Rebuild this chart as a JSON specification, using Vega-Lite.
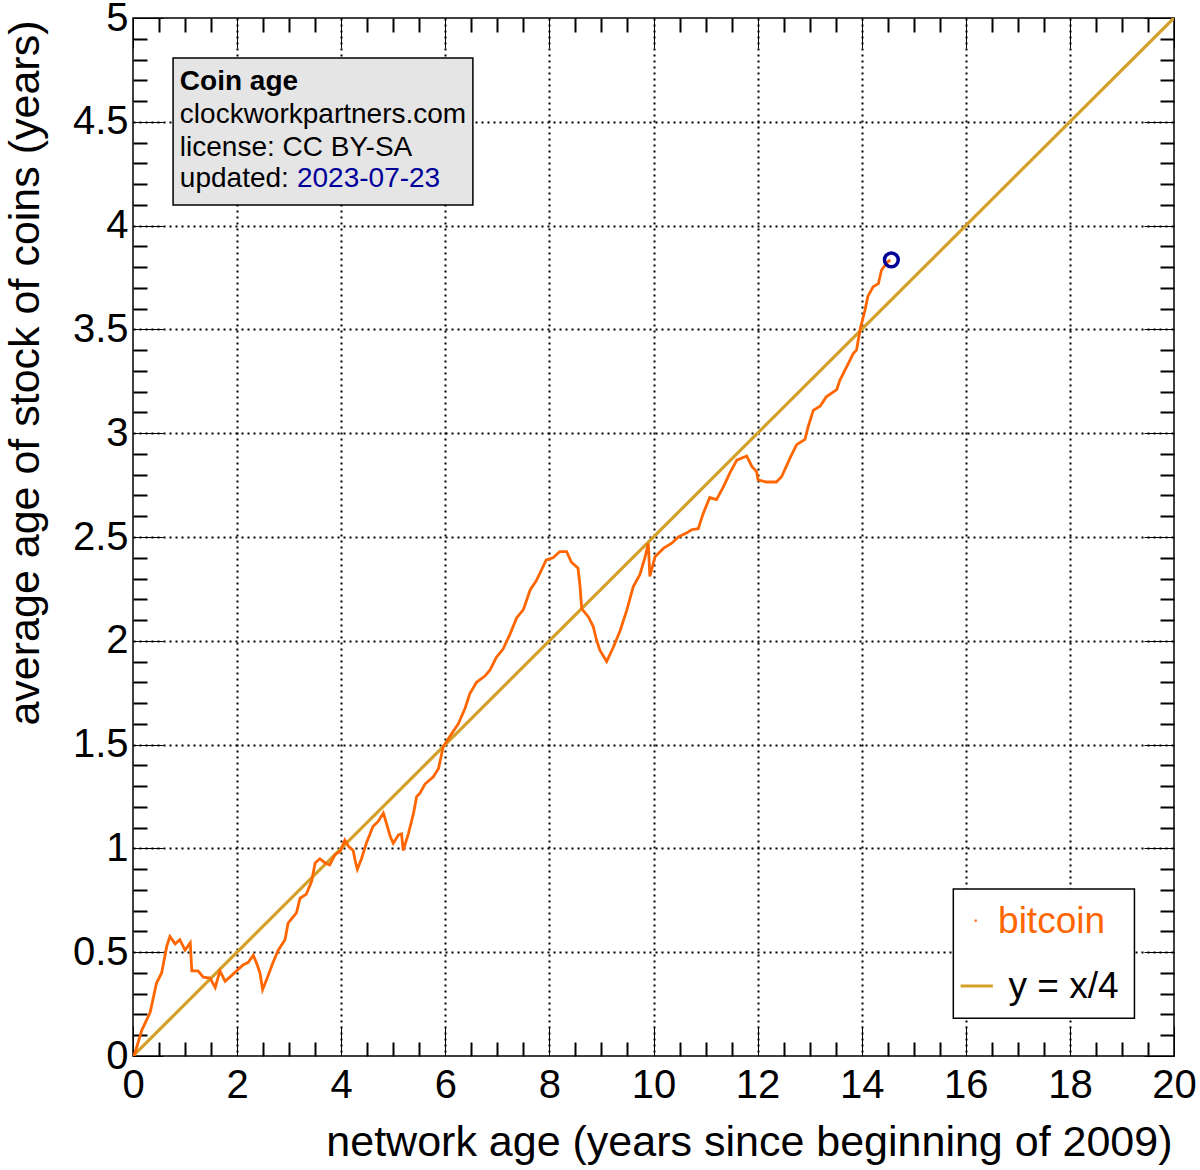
{
  "$schema": "https://vega.github.io/schema/vega-lite/v6.json",
  "width": 1041,
  "height": 1038,
  "autosize": "none",
  "padding": {"left": 133, "top": 18, "right": 26, "bottom": 114},
  "background": "white",
  "config": {
    "font": "Liberation Sans",
    "view": {"stroke": "black", "strokeWidth": 1.5},
    "axis": {"domain": false, "tickColor": "black", "labelColor": "black", "titleColor": "black", "labelFont": "Liberation Sans", "titleFont": "Liberation Sans"}
  },
  "datasets": {
    "bitcoin": [
      {"t": 0.02, "age": 0.0}, {"t": 0.17, "age": 0.125}, {"t": 0.33, "age": 0.21}, {"t": 0.45, "age": 0.35},
      {"t": 0.55, "age": 0.40}, {"t": 0.65, "age": 0.53}, {"t": 0.71, "age": 0.575}, {"t": 0.81, "age": 0.54},
      {"t": 0.90, "age": 0.56}, {"t": 1.00, "age": 0.51}, {"t": 1.10, "age": 0.545}, {"t": 1.13, "age": 0.41},
      {"t": 1.25, "age": 0.41}, {"t": 1.35, "age": 0.38}, {"t": 1.48, "age": 0.375}, {"t": 1.58, "age": 0.33},
      {"t": 1.67, "age": 0.41}, {"t": 1.77, "age": 0.36}, {"t": 1.86, "age": 0.38}, {"t": 1.99, "age": 0.41},
      {"t": 2.12, "age": 0.44}, {"t": 2.21, "age": 0.45}, {"t": 2.31, "age": 0.485}, {"t": 2.37, "age": 0.45},
      {"t": 2.44, "age": 0.40}, {"t": 2.49, "age": 0.32}, {"t": 2.57, "age": 0.37}, {"t": 2.69, "age": 0.45},
      {"t": 2.79, "age": 0.51}, {"t": 2.92, "age": 0.56}, {"t": 2.98, "age": 0.64}, {"t": 3.14, "age": 0.69},
      {"t": 3.21, "age": 0.76}, {"t": 3.33, "age": 0.78}, {"t": 3.43, "age": 0.84}, {"t": 3.50, "age": 0.93},
      {"t": 3.59, "age": 0.95}, {"t": 3.69, "age": 0.93}, {"t": 3.78, "age": 0.92}, {"t": 3.88, "age": 0.97},
      {"t": 3.98, "age": 0.985}, {"t": 4.07, "age": 1.04}, {"t": 4.14, "age": 1.01}, {"t": 4.23, "age": 0.99},
      {"t": 4.27, "age": 0.94}, {"t": 4.31, "age": 0.90}, {"t": 4.39, "age": 0.95}, {"t": 4.49, "age": 1.03},
      {"t": 4.61, "age": 1.105}, {"t": 4.71, "age": 1.13}, {"t": 4.81, "age": 1.17}, {"t": 4.87, "age": 1.12},
      {"t": 4.94, "age": 1.06}, {"t": 5.00, "age": 1.025}, {"t": 5.10, "age": 1.065}, {"t": 5.16, "age": 1.07},
      {"t": 5.19, "age": 0.99}, {"t": 5.29, "age": 1.07}, {"t": 5.39, "age": 1.17}, {"t": 5.45, "age": 1.25},
      {"t": 5.51, "age": 1.265}, {"t": 5.61, "age": 1.31}, {"t": 5.77, "age": 1.345}, {"t": 5.87, "age": 1.385},
      {"t": 5.96, "age": 1.49}, {"t": 6.09, "age": 1.54}, {"t": 6.25, "age": 1.60}, {"t": 6.38, "age": 1.675},
      {"t": 6.47, "age": 1.745}, {"t": 6.60, "age": 1.80}, {"t": 6.76, "age": 1.83}, {"t": 6.86, "age": 1.86},
      {"t": 6.98, "age": 1.92}, {"t": 7.11, "age": 1.96}, {"t": 7.24, "age": 2.03}, {"t": 7.37, "age": 2.11},
      {"t": 7.50, "age": 2.15}, {"t": 7.63, "age": 2.245}, {"t": 7.75, "age": 2.29}, {"t": 7.94, "age": 2.39},
      {"t": 8.07, "age": 2.40}, {"t": 8.20, "age": 2.43}, {"t": 8.33, "age": 2.43}, {"t": 8.42, "age": 2.38},
      {"t": 8.55, "age": 2.35}, {"t": 8.59, "age": 2.26}, {"t": 8.62, "age": 2.155}, {"t": 8.75, "age": 2.115},
      {"t": 8.84, "age": 2.07}, {"t": 8.91, "age": 2.00}, {"t": 8.97, "age": 1.955}, {"t": 9.10, "age": 1.90},
      {"t": 9.23, "age": 1.97}, {"t": 9.36, "age": 2.05}, {"t": 9.49, "age": 2.15}, {"t": 9.61, "age": 2.26},
      {"t": 9.74, "age": 2.32}, {"t": 9.84, "age": 2.405}, {"t": 9.90, "age": 2.47}, {"t": 9.93, "age": 2.31},
      {"t": 10.03, "age": 2.405}, {"t": 10.19, "age": 2.445}, {"t": 10.35, "age": 2.47}, {"t": 10.48, "age": 2.50},
      {"t": 10.64, "age": 2.52}, {"t": 10.73, "age": 2.535}, {"t": 10.86, "age": 2.54}, {"t": 10.95, "age": 2.61},
      {"t": 11.08, "age": 2.69}, {"t": 11.21, "age": 2.68}, {"t": 11.34, "age": 2.74}, {"t": 11.47, "age": 2.81},
      {"t": 11.60, "age": 2.87}, {"t": 11.79, "age": 2.89}, {"t": 11.89, "age": 2.84}, {"t": 11.98, "age": 2.815},
      {"t": 12.01, "age": 2.775}, {"t": 12.17, "age": 2.765}, {"t": 12.36, "age": 2.765}, {"t": 12.46, "age": 2.79},
      {"t": 12.56, "age": 2.845}, {"t": 12.65, "age": 2.895}, {"t": 12.75, "age": 2.945}, {"t": 12.91, "age": 2.97},
      {"t": 12.97, "age": 3.03}, {"t": 13.07, "age": 3.11}, {"t": 13.20, "age": 3.13}, {"t": 13.32, "age": 3.175},
      {"t": 13.52, "age": 3.21}, {"t": 13.58, "age": 3.255}, {"t": 13.71, "age": 3.32}, {"t": 13.84, "age": 3.385},
      {"t": 13.90, "age": 3.40}, {"t": 13.97, "age": 3.50}, {"t": 14.06, "age": 3.59}, {"t": 14.12, "age": 3.66},
      {"t": 14.22, "age": 3.705}, {"t": 14.32, "age": 3.72}, {"t": 14.38, "age": 3.785}, {"t": 14.48, "age": 3.82},
      {"t": 14.55, "age": 3.835}
    ],
    "diagonal": [{"t": 0, "age": 0}, {"t": 20, "age": 5}],
    "latest": [{"t": 14.57, "age": 3.835}]
  },
  "layer": [
    {
      "data": {"name": "diagonal"},
      "mark": {"type": "line", "color": "#d4a02a", "strokeWidth": 3.2, "clip": true},
      "encoding": {
        "x": {
          "field": "t", "type": "quantitative",
          "scale": {"domain": [0, 20], "nice": false, "zero": false},
          "axis": {
            "orient": "bottom",
            "values": [0,0.5,1,1.5,2,2.5,3,3.5,4,4.5,5,5.5,6,6.5,7,7.5,8,8.5,9,9.5,10,10.5,11,11.5,12,12.5,13,13.5,14,14.5,15,15.5,16,16.5,17,17.5,18,18.5,19,19.5,20],
            "tickSize": {"condition": {"test": "datum.value % 2 === 0", "value": -30}, "value": -14},
            "tickWidth": {"condition": {"test": "datum.value % 2 === 0", "value": 1}, "value": 2},
            "grid": true,
            "gridColor": "black",
            "gridDash": [2, 4],
            "gridWidth": 2,
            "gridOpacity": {"condition": {"test": "datum.value % 2 === 0 && datum.value > 0 && datum.value < 20", "value": 1}, "value": 0},
            "labelExpr": "datum.value % 2 === 0 ? toString(datum.value) : ''",
            "labelFontSize": 40,
            "labelPadding": 39,
            "labelFlush": false,
            "labelOverlap": false,
            "title": "network age (years since beginning of 2009)",
            "titleFontSize": 43,
            "titleFontWeight": "normal",
            "titleAlign": "right",
            "titleAnchor": "end",
            "titleBaseline": "alphabetic",
            "titleX": 1039,
            "titleY": 99
          }
        },
        "y": {
          "field": "age", "type": "quantitative",
          "scale": {"domain": [0, 5], "nice": false, "zero": false},
          "axis": {
            "orient": "left",
            "values": [0,0.1,0.2,0.3,0.4,0.5,0.6,0.7,0.8,0.9,1,1.1,1.2,1.3,1.4,1.5,1.6,1.7,1.8,1.9,2,2.1,2.2,2.3,2.4,2.5,2.6,2.7,2.8,2.9,3,3.1,3.2,3.3,3.4,3.5,3.6,3.7,3.8,3.9,4,4.1,4.2,4.3,4.4,4.5,4.6,4.7,4.8,4.9,5],
            "tickSize": {"condition": {"test": "abs(datum.value * 2 - round(datum.value * 2)) < 0.001", "value": -30}, "value": -14},
            "tickWidth": {"condition": {"test": "abs(datum.value * 2 - round(datum.value * 2)) < 0.001", "value": 1}, "value": 2},
            "grid": true,
            "gridColor": "black",
            "gridDash": [2, 4],
            "gridWidth": 2,
            "gridOpacity": {"condition": {"test": "abs(datum.value * 2 - round(datum.value * 2)) < 0.001 && datum.value > 0 && datum.value < 5", "value": 1}, "value": 0},
            "labelExpr": "abs(datum.value * 2 - round(datum.value * 2)) < 0.001 ? toString(datum.value) : ''",
            "labelFontSize": 40,
            "labelPadding": 35,
            "labelFlush": false,
            "labelOverlap": false,
            "title": "average age of stock of coins (years)",
            "titleFontSize": 43,
            "titleFontWeight": "normal",
            "titleAngle": -90,
            "titleAlign": "right",
            "titleAnchor": "end",
            "titleBaseline": "alphabetic",
            "titleX": -95,
            "titleY": 2
          }
        }
      }
    },
    {
      "data": {"name": "bitcoin"},
      "mark": {"type": "line", "color": "#ff6600", "strokeWidth": 2.8, "clip": true},
      "encoding": {
        "x": {
          "field": "t", "type": "quantitative",
          "axis": {
            "orient": "top",
            "values": [0,0.5,1,1.5,2,2.5,3,3.5,4,4.5,5,5.5,6,6.5,7,7.5,8,8.5,9,9.5,10,10.5,11,11.5,12,12.5,13,13.5,14,14.5,15,15.5,16,16.5,17,17.5,18,18.5,19,19.5,20],
            "tickSize": {"condition": {"test": "datum.value % 2 === 0", "value": -30}, "value": -14},
            "tickWidth": {"condition": {"test": "datum.value % 2 === 0", "value": 1}, "value": 2},
            "grid": false,
            "labels": false,
            "title": null
          }
        },
        "y": {
          "field": "age", "type": "quantitative",
          "axis": {
            "orient": "right",
            "values": [0,0.1,0.2,0.3,0.4,0.5,0.6,0.7,0.8,0.9,1,1.1,1.2,1.3,1.4,1.5,1.6,1.7,1.8,1.9,2,2.1,2.2,2.3,2.4,2.5,2.6,2.7,2.8,2.9,3,3.1,3.2,3.3,3.4,3.5,3.6,3.7,3.8,3.9,4,4.1,4.2,4.3,4.4,4.5,4.6,4.7,4.8,4.9,5],
            "tickSize": {"condition": {"test": "abs(datum.value * 2 - round(datum.value * 2)) < 0.001", "value": -30}, "value": -14},
            "tickWidth": {"condition": {"test": "abs(datum.value * 2 - round(datum.value * 2)) < 0.001", "value": 1}, "value": 2},
            "grid": false,
            "labels": false,
            "title": null
          }
        }
      }
    },
    {
      "data": {"name": "latest"},
      "mark": {"type": "point", "shape": "circle", "filled": false, "color": "#000099", "strokeWidth": 3.5, "size": 190, "opacity": 1},
      "encoding": {
        "x": {"field": "t", "type": "quantitative", "axis": null},
        "y": {"field": "age", "type": "quantitative", "axis": null}
      }
    },
    {
      "data": {"values": [{}]},
      "layer": [
        {
          "mark": {"type": "rect", "fill": "#e5e5e5", "stroke": "black", "strokeWidth": 1.5},
          "encoding": {
            "x": {"datum": 0.77, "type": "quantitative", "axis": null},
            "x2": {"datum": 6.53},
            "y": {"datum": 4.807, "type": "quantitative", "axis": null},
            "y2": {"datum": 4.099}
          }
        },
        {
          "mark": {"type": "text", "text": "Coin age", "align": "left", "baseline": "alphabetic", "fontSize": 28, "fontWeight": "bold", "color": "black"},
          "encoding": {"x": {"datum": 0.9, "type": "quantitative", "axis": null}, "y": {"datum": 4.653, "type": "quantitative", "axis": null}}
        },
        {
          "mark": {"type": "text", "text": "clockworkpartners.com", "align": "left", "baseline": "alphabetic", "fontSize": 28, "color": "black"},
          "encoding": {"x": {"datum": 0.9, "type": "quantitative", "axis": null}, "y": {"datum": 4.496, "type": "quantitative", "axis": null}}
        },
        {
          "mark": {"type": "text", "text": "license: CC BY-SA", "align": "left", "baseline": "alphabetic", "fontSize": 28, "color": "black"},
          "encoding": {"x": {"datum": 0.9, "type": "quantitative", "axis": null}, "y": {"datum": 4.335, "type": "quantitative", "axis": null}}
        },
        {
          "mark": {"type": "text", "text": "updated:", "align": "left", "baseline": "alphabetic", "fontSize": 28, "color": "black"},
          "encoding": {"x": {"datum": 0.9, "type": "quantitative", "axis": null}, "y": {"datum": 4.188, "type": "quantitative", "axis": null}}
        },
        {
          "mark": {"type": "text", "text": "2023-07-23", "align": "left", "baseline": "alphabetic", "fontSize": 28, "color": "#000099"},
          "encoding": {"x": {"datum": 3.15, "type": "quantitative", "axis": null}, "y": {"datum": 4.188, "type": "quantitative", "axis": null}}
        },
        {
          "mark": {"type": "rect", "fill": "white", "stroke": "black", "strokeWidth": 1.5},
          "encoding": {
            "x": {"datum": 15.76, "type": "quantitative", "axis": null},
            "x2": {"datum": 19.24},
            "y": {"datum": 0.804, "type": "quantitative", "axis": null},
            "y2": {"datum": 0.182}
          }
        },
        {
          "mark": {"type": "point", "shape": "square", "filled": true, "color": "#ff6600", "size": 5, "opacity": 1},
          "encoding": {"x": {"datum": 16.19, "type": "quantitative", "axis": null}, "y": {"datum": 0.652, "type": "quantitative", "axis": null}}
        },
        {
          "mark": {"type": "text", "text": "bitcoin", "align": "left", "baseline": "alphabetic", "fontSize": 37, "color": "#ff6600"},
          "encoding": {"x": {"datum": 16.62, "type": "quantitative", "axis": null}, "y": {"datum": 0.591, "type": "quantitative", "axis": null}}
        },
        {
          "mark": {"type": "rule", "color": "#d4a02a", "strokeWidth": 3},
          "encoding": {
            "x": {"datum": 15.9, "type": "quantitative", "axis": null},
            "x2": {"datum": 16.52},
            "y": {"datum": 0.337, "type": "quantitative", "axis": null}
          }
        },
        {
          "mark": {"type": "text", "text": "y = x/4", "align": "left", "baseline": "alphabetic", "fontSize": 37, "color": "black"},
          "encoding": {"x": {"datum": 16.82, "type": "quantitative", "axis": null}, "y": {"datum": 0.278, "type": "quantitative", "axis": null}}
        }
      ]
    }
  ]
}
